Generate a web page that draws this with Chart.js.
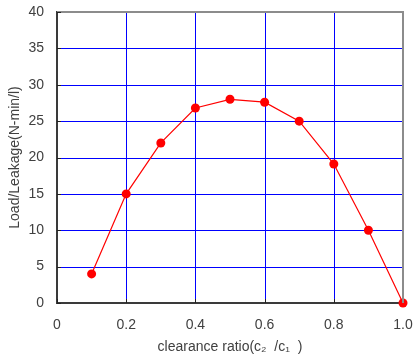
<!DOCTYPE html>
<html>
<head>
<meta charset="utf-8">
<script src="https://cdn.jsdelivr.net/npm/chart.js@4/dist/chart.umd.min.js"></script>
<style>
  html, body { margin: 0; padding: 0; background: #fff; }
  #wrap { width: 413px; height: 356px; }
</style>
</head>
<body>
<div id="wrap"><canvas id="graph" width="413" height="356"></canvas></div>
<script>
const ratios = [0.1, 0.2, 0.3, 0.4, 0.5, 0.6, 0.7, 0.8, 0.9, 1.0];
const loadLeakage = [4, 15, 22, 26.8, 28, 27.6, 25, 19.1, 10, 0];
const xTicks = [0, 0.2, 0.4, 0.6, 0.8, 1.0];
const yTicks = [0, 5, 10, 15, 20, 25, 30, 35, 40];

const FONT = 'Liberation Sans, Arial, sans-serif';
const TEXT = '#404040';

// blue grid drawn as crisp 1px rects, from the scales
const blueGrid = {
    id: 'blueGrid',
    beforeDatasetsDraw(chart) {
        let ctx = chart.ctx;
        let a = chart.chartArea;
        let xs = chart.scales.x, ys = chart.scales.y;
        ctx.save();
        ctx.fillStyle = '#0000ff';
        xTicks.slice(1, -1).forEach(v => {
            let x = Math.round(xs.getPixelForValue(v));
            ctx.fillRect(x, Math.round(a.top), 1, Math.round(a.bottom - a.top));
        });
        yTicks.slice(1, -1).forEach(v => {
            let y = Math.round(ys.getPixelForValue(v));
            ctx.fillRect(Math.round(a.left), y, Math.round(a.right - a.left), 1);
        });
        ctx.restore();
    }
};

// gray frame on top/right and short inward tick marks
const frame = {
    id: 'frame',
    afterDraw(chart) {
        let ctx = chart.ctx;
        let a = chart.chartArea;
        let xs = chart.scales.x, ys = chart.scales.y;
        ctx.save();
        ctx.fillStyle = '#8c8c8c';
        ctx.fillRect(Math.round(a.left), Math.round(a.top) - 1, Math.round(a.right - a.left) + 1, 2);
        ctx.fillRect(Math.round(a.right) - 1, Math.round(a.top) - 1, 2, Math.round(a.bottom - a.top) + 1);
        ctx.fillStyle = '#222';
        yTicks.forEach(v => {
            let y = Math.round(ys.getPixelForValue(v));
            ctx.fillRect(Math.round(a.left), y, 4, 1);
        });
        xTicks.slice(0, -1).forEach(v => {
            let x = Math.round(xs.getPixelForValue(v));
            ctx.fillRect(x, Math.round(a.bottom) - 4, 1, 4);
        });
        ctx.restore();
    }
};

let graph = document.getElementById('graph').getContext('2d');
new Chart(graph, {
    type: 'line',
    data: {
        datasets: [{
            data: ratios.map((r, i) => ({x: r, y: loadLeakage[i]})),
            borderColor: '#ff0000',
            backgroundColor: '#ff0000',
            borderWidth: 1.2,
            pointRadius: 4.5,
            pointBorderWidth: 0,
            tension: 0,
            clip: false
        }]
    },
    plugins: [blueGrid, frame],
    options: {
        responsive: false,
        animation: false,
        layout: { padding: { top: 12, right: 10, left: 0, bottom: 0 } },
        plugins: { legend: { display: false }, tooltip: { enabled: false } },
        scales: {
            x: {
                type: 'linear',
                min: 0, max: 1,
                afterBuildTicks: s => { s.ticks = xTicks.map(v => ({value: v})); },
                afterFit: s => { s.height = 53; s.paddingRight = 0; s.paddingLeft = 0; },
                ticks: {
                    color: TEXT,
                    font: { family: FONT, size: 14 },
                    padding: 6,
                    callback: v => v === 0 ? '0' : (v === 1 ? '1.0' : String(v))
                },
                grid: { display: false },
                border: { color: '#3a3a3a', width: 2 },
                title: {
                    display: true,
                    text: 'clearance ratio(c\u2082  /c\u2081  )',
                    color: TEXT,
                    font: { family: FONT, size: 14 },
                    padding: { top: 4, bottom: 0 }
                }
            },
            y: {
                min: 0, max: 40,
                afterBuildTicks: s => { s.ticks = yTicks.map(v => ({value: v})); },
                afterFit: s => { s.width = 57; s.paddingTop = 0; s.paddingBottom = 0; },
                ticks: {
                    color: TEXT,
                    font: { family: FONT, size: 14 },
                    padding: 5
                },
                grid: { display: false },
                border: { color: '#3a3a3a', width: 2 },
                title: {
                    display: true,
                    text: 'Load/Leakage(N-min/l)',
                    color: TEXT,
                    font: { family: FONT, size: 14 },
                    padding: { top: 7, bottom: 4 }
                }
            }
        }
    }
});
</script>
</body>
</html>
